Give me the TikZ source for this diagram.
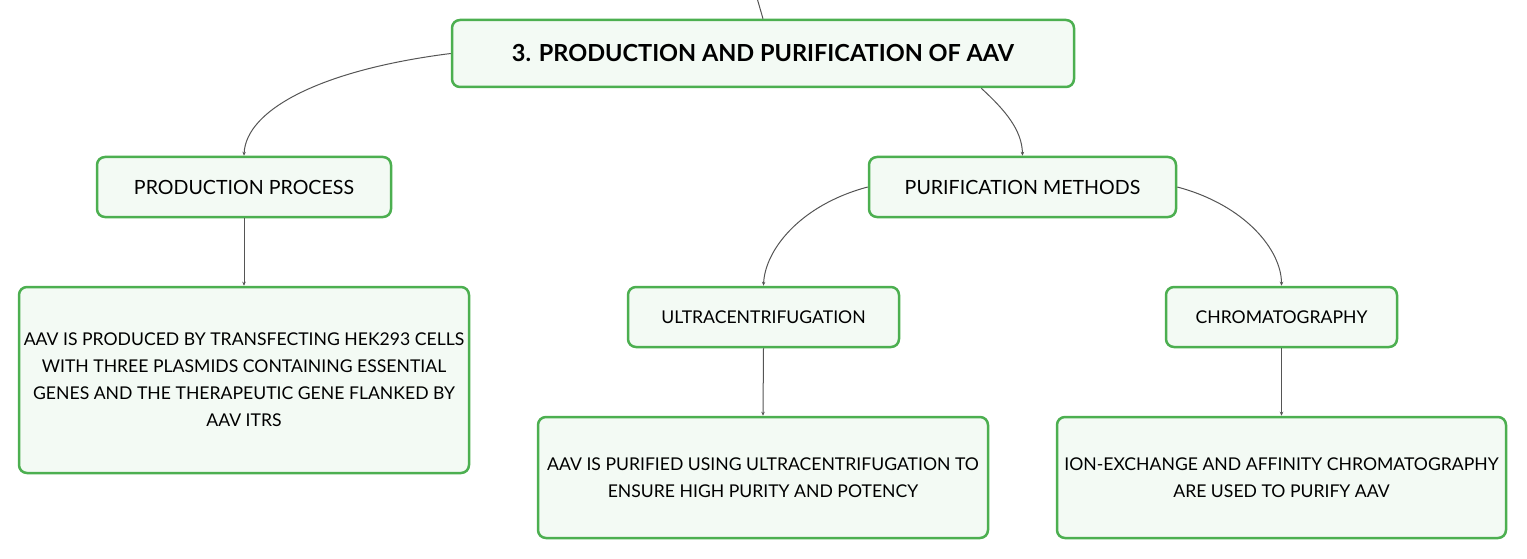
\documentclass[tikz,border=0pt]{standalone}
\usepackage{fontspec}
\setmainfont{Lato}
\usetikzlibrary{arrows.meta}
\definecolor{boxgreen}{HTML}{4CAF50}
\definecolor{boxfill}{HTML}{F3FAF4}
\definecolor{linegray}{HTML}{555555}
\tikzset{
  box/.style={draw=boxgreen, fill=boxfill, line width=2.5pt, rounded corners=8pt, align=center, inner sep=0pt, font=\fontsize{19.6}{27}\selectfont},
  bodytext/.style={font=\fontsize{17.6}{27}\selectfont},
  conn/.style={draw=linegray, line width=1pt, -{Stealth[length=4pt,width=3.5pt]}}
}
\begin{document}
\begin{tikzpicture}[x=1pt,y=-1pt]
\useasboundingbox (0,0) rectangle (1527,559);
\node[box, minimum width=622pt, minimum height=67pt, font=\bfseries\fontsize{23.5}{26}\selectfont] (title) at (763,53.5) {3. PRODUCTION AND PURIFICATION OF AAV};
\node[box, minimum width=294pt, minimum height=60pt] (prod) at (244,187) {PRODUCTION PROCESS};
\node[box, minimum width=307pt, minimum height=60pt] (pur) at (1022.5,187) {PURIFICATION METHODS};
\node[box, bodytext, minimum width=450pt, minimum height=186pt] (prodtxt) at (244,380) {AAV IS PRODUCED BY TRANSFECTING HEK293 CELLS\\WITH THREE PLASMIDS CONTAINING ESSENTIAL\\GENES AND THE THERAPEUTIC GENE FLANKED BY\\AAV ITRS};
\node[box, bodytext, minimum width=271pt, minimum height=60pt] (ultra) at (763.5,317) {ULTRACENTRIFUGATION};
\node[box, bodytext, minimum width=231pt, minimum height=60pt] (chrom) at (1281.5,317) {CHROMATOGRAPHY};
\node[box, bodytext, minimum width=450pt, minimum height=121pt] (ultratxt) at (763,477.5) {AAV IS PURIFIED USING ULTRACENTRIFUGATION TO\\ENSURE HIGH PURITY AND POTENCY};
\node[box, bodytext, minimum width=449pt, minimum height=121pt] (chromtxt) at (1281.5,477.5) {ION-EXCHANGE AND AFFINITY CHROMATOGRAPHY\\ARE USED TO PURIFY AAV};
\coordinate (top) at (757,-2);
\draw[draw=linegray, line width=1pt] (top) -- (title.north);
\draw[conn] (title.west) .. controls (320,70) and (246,110) .. (prod.north);
\draw[conn] (title.south east) ++(-94,0) .. controls (1005,110) and (1022,130) .. (pur.north);
\draw[conn] (pur.west) .. controls (800,205) and (765,250) .. (ultra.north);
\draw[conn] (pur.east) .. controls (1245,205) and (1281.5,250) .. (chrom.north);
\draw[conn] (prod.south) -- (prodtxt.north);
\draw[conn] (ultra.south) -- (ultratxt.north);
\draw[conn] (chrom.south) -- (chromtxt.north);
\end{tikzpicture}
\end{document}
